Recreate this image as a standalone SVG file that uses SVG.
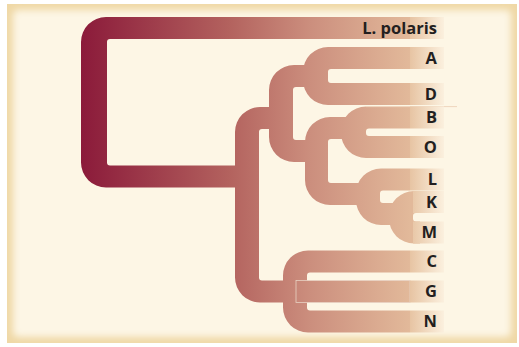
<svg xmlns="http://www.w3.org/2000/svg" width="519" height="347" viewBox="0 0 519 347">
<defs>
<linearGradient id="br" gradientUnits="userSpaceOnUse" x1="81" y1="0" x2="410" y2="0">
<stop offset="0" stop-color="#8B1A3A"/>
<stop offset="0.45" stop-color="#B3625E"/>
<stop offset="0.7" stop-color="#CC8F7E"/>
<stop offset="1" stop-color="#E2B99A"/>
</linearGradient>
<linearGradient id="lb" gradientUnits="userSpaceOnUse" x1="410" y1="0" x2="444" y2="0">
<stop offset="0" stop-color="#E7C4A3"/>
<stop offset="1" stop-color="#FBF0DE"/>
</linearGradient>
<filter id="soft" x="-5%" y="-5%" width="110%" height="110%"><feGaussianBlur stdDeviation="3.5"/></filter>
<clipPath id="pc"><rect x="7" y="4" width="510" height="339"/></clipPath>
<style>
.b{fill:url(#br)}
.lbox{fill:url(#lb)}
.t{font-family:"Open Sans","Noto Sans","Liberation Sans",sans-serif;font-weight:700;font-size:16.5px;fill:#231F20;text-anchor:end}
</style>
</defs>
<rect x="0" y="0" width="519" height="347" fill="#FFFFFF"/>
<g clip-path="url(#pc)">
<rect x="7" y="4" width="510" height="339" fill="#EFD8A6"/>
<rect x="13" y="10" width="498" height="327" rx="5" fill="#FDF6E5" filter="url(#soft)"/>
</g>
<g id="connectors">
<path id="root" class="b" d="M410 17 H106 A25 25 0 0 0 81 42 V162.5 A25 25 0 0 0 106 187.5 H247 V165.5 H110 A3 3 0 0 1 107 162.5 V42 A3 3 0 0 1 110 39 H410 Z"/>
<path id="ingroup" class="b" d="M281 107 H260 A25 25 0 0 0 235 132 V277.5 A25 25 0 0 0 260 302.5 H295 V280.5 H262 A3 3 0 0 1 259 277.5 V132 A3 3 0 0 1 262 129 H281 Z"/>
<path id="nX" class="b" d="M315 65 H294 A25 25 0 0 0 269 90 V137 A25 25 0 0 0 294 162 H317 V140 H296 A3 3 0 0 1 293 137 V90 A3 3 0 0 1 296 87 H315 Z"/>
<path id="nAD" class="b" d="M410 47 H328 A25 25 0 0 0 303 72 V80 A25 25 0 0 0 328 105 H410 V83 H331 A3 3 0 0 1 328 80 V72 A3 3 0 0 1 331 69 H410 Z"/>
<path id="nY" class="b" d="M353 117 H330 A25 25 0 0 0 305 142 V180 A25 25 0 0 0 330 205 H368 V183 H331 A3 3 0 0 1 328 180 V142 A3 3 0 0 1 331 139 H353 Z"/>
<path id="nBO" class="b" d="M410 106.5 H366 A25 25 0 0 0 341 131.5 V133 A25 25 0 0 0 366 158 H410 V136 H369 A3 3 0 0 1 366 133 V131.5 A3 3 0 0 1 369 128.5 H410 Z"/>
<path id="nZ" class="b" d="M410 168.5 H381 A25 25 0 0 0 356 193.5 V200 A25 25 0 0 0 381 225 H401 V203 H383 A3 3 0 0 1 380 200 V193.5 A3 3 0 0 1 383 190.5 H410 Z"/>
<path id="nKM" class="b" d="M420 191 H414 A25 25 0 0 0 389 216 V218.5 A25 25 0 0 0 414 243.5 H420 V221.5 H416 A3 3 0 0 1 413 218.5 V216 A3 3 0 0 1 416 213 H420 Z"/>
<path id="nCGN" class="b" d="M410 250.5 H308 A25 25 0 0 0 283 275.5 V307.5 A25 25 0 0 0 308 332.5 H410 V310.5 H310 A3 3 0 0 1 307 307.5 V275.5 A3 3 0 0 1 310 272.5 H410 Z"/>
<rect id="barG" class="b" x="296" y="280.5" width="114" height="22" stroke="#E8D2C2" stroke-width="0.8"/>
<line x1="366" y1="106.6" x2="457" y2="106.6" stroke="#EFD5BD" stroke-width="1"/>
</g>
<g id="node-Lpolaris"><rect class="lbox" x="410" y="17" width="34" height="22"/><text class="t" x="437" y="33.8">L. polaris</text></g>
<g id="node-A"><rect class="lbox" x="410" y="47" width="34" height="22"/><text class="t" x="437" y="63.8">A</text></g>
<g id="node-D"><rect class="lbox" x="410" y="83" width="34" height="22"/><text class="t" x="437" y="99.8">D</text></g>
<g id="node-B"><rect class="lbox" x="410" y="106.5" width="34" height="22"/><text class="t" x="437" y="123.3">B</text></g>
<g id="node-O"><rect class="lbox" x="410" y="136" width="34" height="22"/><text class="t" x="437" y="152.8">O</text></g>
<g id="node-L"><rect class="lbox" x="410" y="168.5" width="34" height="22"/><text class="t" x="437" y="185">L</text></g>
<g id="node-K"><rect class="lbox" x="413" y="191" width="31" height="22"/><text class="t" x="437" y="207.8">K</text></g>
<g id="node-M"><rect class="lbox" x="413" y="221.5" width="31" height="22"/><text class="t" x="437" y="238.3">M</text></g>
<g id="node-C"><rect class="lbox" x="410" y="250.5" width="34" height="22"/><text class="t" x="437" y="267.3">C</text></g>
<g id="node-G"><rect class="lbox" x="410" y="280.5" width="34" height="22"/><text class="t" x="437" y="297.3">G</text></g>
<g id="node-N"><rect class="lbox" x="410" y="310.5" width="34" height="22"/><text class="t" x="437" y="327.3">N</text></g>
</svg>
